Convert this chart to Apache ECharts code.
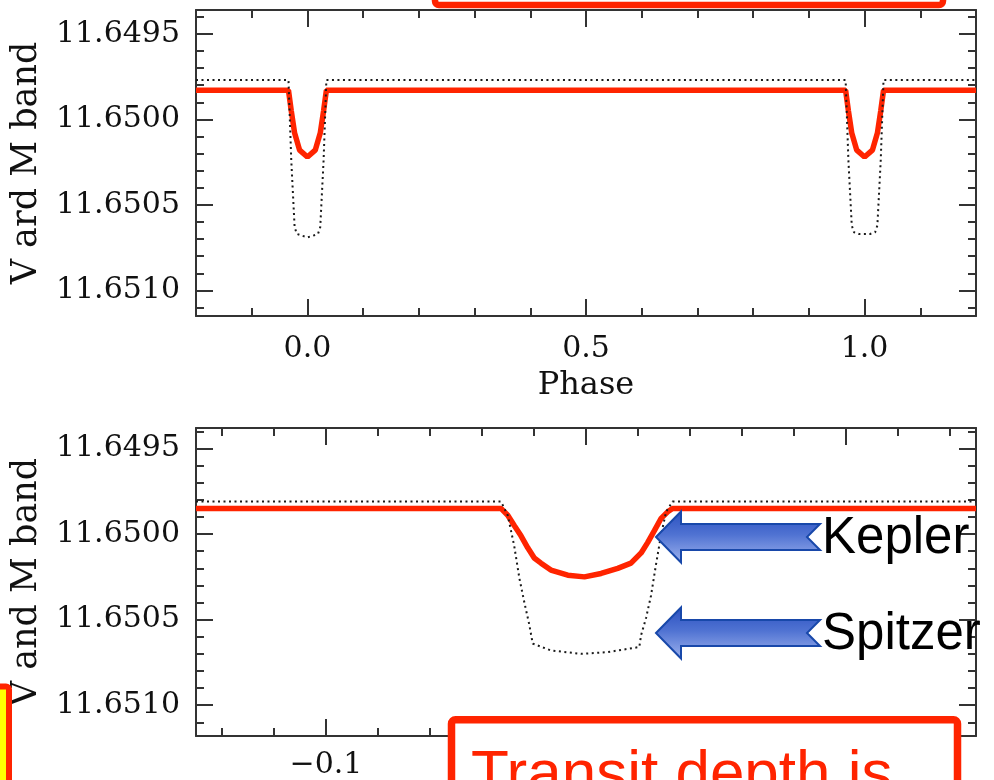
<!DOCTYPE html>
<html>
<head>
<meta charset="utf-8">
<script src="https://cdn.jsdelivr.net/npm/echarts@6/dist/echarts.min.js"></script>
<style>
  html, body { margin: 0; padding: 0; background: #ffffff; }
  #chart { width: 994px; height: 780px; }
</style>
</head>
<body>
<div id="chart"></div>
<script>
// ---- Full-orbit light curve (phase -0.2 .. 1.2) ----
const topSpitzerPhase = [-0.2, -0.034, -0.029, -0.023, -0.019, -0.010, 0.0, 0.010, 0.019, 0.023, 0.029, 0.034,
                         0.966, 0.971, 0.977, 0.981, 0.990, 1.0, 1.010, 1.019, 1.023, 1.029, 1.034, 1.2];
const topSpitzerMag   = [11.64977, 11.64977, 11.65024, 11.65063, 11.65067, 11.65068, 11.65069, 11.65068, 11.65067, 11.65063, 11.65024, 11.64977,
                         11.64977, 11.65024, 11.65062, 11.65066, 11.65067, 11.65067, 11.65067, 11.65066, 11.65062, 11.65024, 11.64977, 11.64977];
const topKeplerPhase  = [-0.2, -0.034, -0.029, -0.023, -0.014, 0.0, 0.014, 0.023, 0.029, 0.034,
                         0.966, 0.971, 0.977, 0.986, 1.0, 1.014, 1.023, 1.029, 1.034, 1.2];
const topKeplerMag    = [11.64983, 11.64983, 11.64995, 11.65008, 11.65018, 11.65022, 11.65018, 11.65008, 11.64995, 11.64983,
                         11.64983, 11.64995, 11.65008, 11.65018, 11.65022, 11.65018, 11.65008, 11.64995, 11.64983, 11.64983];

// ---- Transit close-up (phase -0.15 .. 0.15) ----
const botSpitzerPhase = [-0.15, -0.0327, -0.0301, -0.0276, -0.0256, -0.0237, -0.0218, -0.0205, -0.0135, -0.0019, 0.0083,
                         0.0205, 0.0212, 0.0231, 0.0250, 0.0269, 0.0288, 0.0308, 0.0333, 0.15];
const botSpitzerMag   = [11.64981, 11.64981, 11.64989, 11.65007, 11.65026, 11.65040, 11.65053, 11.65064, 11.65068, 11.65070, 11.65069,
                         11.65066, 11.65059, 11.65049, 11.65036, 11.65018, 11.65001, 11.64987, 11.64981, 11.64981];
const botKeplerPhase  = [-0.15, -0.0327, -0.0301, -0.0276, -0.0250, -0.0224, -0.0199, -0.0173, -0.0135, -0.0070, -0.0006,
                         0.0058, 0.0122, 0.0173, 0.0212, 0.0237, 0.0263, 0.0288, 0.0314, 0.0333, 0.15];
const botKeplerMag    = [11.64985, 11.64985, 11.64989, 11.64995, 11.65001, 11.65008, 11.65014, 11.65017, 11.65021, 11.65024, 11.65025,
                         11.65023, 11.65020, 11.65017, 11.65011, 11.65005, 11.64998, 11.64991, 11.64987, 11.64985, 11.64985];

// ---- Tick positions and labels ----
const magMajorTicks = [11.6495, 11.6500, 11.6505, 11.6510];
const magMinorTicks = [11.6494, 11.6496, 11.6497, 11.6498, 11.6499, 11.6501, 11.6502, 11.6503, 11.6504,
                       11.6506, 11.6507, 11.6508, 11.6509, 11.6511];
const topPhaseMajor = [0.0, 0.5, 1.0];
const topPhaseMinor = [-0.1, 0.1, 0.2, 0.3, 0.4, 0.6, 0.7, 0.8, 0.9, 1.1];
const botPhaseMajor = [-0.1, 0.0, 0.1];
const botPhaseMinor = [-0.14, -0.12, -0.08, -0.06, -0.04, -0.02, 0.02, 0.04, 0.06, 0.08, 0.12, 0.14];
const yTitleTop = 'V ard M band';
const yTitleBot = 'V and M band';
const xTitleTop = 'Phase';

const pairs = (xs, ys) => xs.map((x, i) => [x, ys[i]]);

const AX = '#333333';
const INK = '#111111';
const serif = 'DejaVu Serif';

function xAxes(grid, min, max, major, minor, labelMargin, name) {
  const base = { type: 'value', gridIndex: grid, min: min, max: max, splitLine: { show: false } };
  const fmt = v => (v < 0 ? '\u2212' + Math.abs(v).toFixed(1) : v.toFixed(1));
  return [
    Object.assign({}, base, {
      position: 'bottom',
      axisLine: { show: true, onZero: false, lineStyle: { color: AX, width: 2 } },
      axisTick: { show: true, inside: true, length: 17, customValues: major, lineStyle: { color: AX, width: 2 } },
      axisLabel: { show: true, customValues: major, margin: labelMargin, formatter: fmt,
                   fontFamily: serif, fontSize: 30, color: INK },
      name: name || '', nameLocation: 'middle', nameGap: 54,
      nameTextStyle: { fontFamily: serif, fontSize: 32, color: INK }
    }),
    Object.assign({}, base, {
      position: 'bottom',
      axisLine: { show: false, onZero: false },
      axisTick: { show: true, inside: true, length: 8, customValues: minor, lineStyle: { color: AX, width: 2 } },
      axisLabel: { show: false }
    }),
    Object.assign({}, base, {
      position: 'top',
      axisLine: { show: true, onZero: false, lineStyle: { color: AX, width: 2 } },
      axisTick: { show: true, inside: true, length: 17, customValues: major, lineStyle: { color: AX, width: 2 } },
      axisLabel: { show: false }
    }),
    Object.assign({}, base, {
      position: 'top',
      axisLine: { show: false, onZero: false },
      axisTick: { show: true, inside: true, length: 8, customValues: minor, lineStyle: { color: AX, width: 2 } },
      axisLabel: { show: false }
    })
  ];
}

function yAxes(grid, min, max, title) {
  const base = { type: 'value', gridIndex: grid, min: min, max: max, inverse: true, splitLine: { show: false } };
  return [
    Object.assign({}, base, {
      position: 'left',
      axisLine: { show: true, onZero: false, lineStyle: { color: AX, width: 2 } },
      axisTick: { show: true, inside: true, length: 17, customValues: magMajorTicks, lineStyle: { color: AX, width: 2 } },
      axisLabel: { show: true, customValues: magMajorTicks, margin: 16, formatter: v => v.toFixed(4),
                   fontFamily: serif, fontSize: 30, color: INK },
      name: title, nameLocation: 'middle', nameGap: 152, nameRotate: 90,
      nameTextStyle: { fontFamily: serif, fontSize: 35, color: INK }
    }),
    Object.assign({}, base, {
      position: 'left',
      axisLine: { show: false, onZero: false },
      axisTick: { show: true, inside: true, length: 8, customValues: magMinorTicks, lineStyle: { color: AX, width: 2 } },
      axisLabel: { show: false }
    }),
    Object.assign({}, base, {
      position: 'right',
      axisLine: { show: true, onZero: false, lineStyle: { color: AX, width: 2 } },
      axisTick: { show: true, inside: true, length: 17, customValues: magMajorTicks, lineStyle: { color: AX, width: 2 } },
      axisLabel: { show: false }
    }),
    Object.assign({}, base, {
      position: 'right',
      axisLine: { show: false, onZero: false },
      axisTick: { show: true, inside: true, length: 8, customValues: magMinorTicks, lineStyle: { color: AX, width: 2 } },
      axisLabel: { show: false }
    })
  ];
}

const RED = '#ff2400';
const spitzerStyle = { color: '#1a1a1a', width: 2, type: [2, 3.5] };
const keplerStyle = { color: RED, width: 5.5 };

function line(data, xi, yi, style, z) {
  return { type: 'line', data: data, xAxisIndex: xi, yAxisIndex: yi, showSymbol: false, symbol: 'none',
           lineStyle: style, z: z, animation: false, silent: true };
}

const blueFill = () => new echarts.graphic.LinearGradient(0, 0, 0, 1, [
  { offset: 0, color: '#2a50c0' }, { offset: 0.45, color: '#4f72d2' }, { offset: 1, color: '#9fb3ee' }
]);
function arrow(tipX, tipY) {
  return {
    type: 'polygon', z: 200,
    shape: { points: [[tipX, tipY], [tipX + 25, tipY - 25.5], [tipX + 25, tipY - 13], [tipX + 164, tipY - 13],
                      [tipX + 151, tipY], [tipX + 164, tipY + 13], [tipX + 25, tipY + 13], [tipX + 25, tipY + 25.5]] },
    style: { fill: blueFill(), stroke: '#1848aa', lineWidth: 2 }
  };
}

const chart = echarts.init(document.getElementById('chart'), null, { renderer: 'canvas' });
chart.setOption({
  animation: false,
  backgroundColor: '#ffffff',
  grid: [
    { left: 196, top: 10, width: 780, height: 306 },
    { left: 196, top: 428, width: 780, height: 310 }
  ],
  xAxis: [].concat(
    xAxes(0, -0.2, 1.2, topPhaseMajor, topPhaseMinor, 18, xTitleTop),
    xAxes(1, -0.15, 0.15, botPhaseMajor, botPhaseMinor, 14, '')
  ),
  yAxis: [].concat(
    yAxes(0, 11.64936, 11.65115, yTitleTop),
    yAxes(1, 11.64938, 11.65118, yTitleBot)
  ),
  series: [
    line(pairs(topKeplerPhase, topKeplerMag), 0, 0, keplerStyle, 2),
    line(pairs(topSpitzerPhase, topSpitzerMag), 0, 0, spitzerStyle, 3),
    line(pairs(botKeplerPhase, botKeplerMag), 4, 4, keplerStyle, 2),
    line(pairs(botSpitzerPhase, botSpitzerMag), 4, 4, spitzerStyle, 3)
  ],
  graphic: [
    { type: 'rect', z: 200, shape: { x: 435, y: -100, width: 508, height: 105, r: 4 },
      style: { fill: '#ffffff', stroke: RED, lineWidth: 6.5 } },
    { type: 'rect', z: 200, shape: { x: 451.5, y: 719.8, width: 506, height: 120, r: 4 },
      style: { fill: '#ffffff', stroke: RED, lineWidth: 7.5 } },
    { type: 'text', z: 210, style: { x: 471, y: 776, text: 'Transit depth is', fill: RED,
      font: '62px "Liberation Sans", Arial, sans-serif', textVerticalAlign: 'middle', verticalAlign: 'middle' } },
    { type: 'rect', z: 200, shape: { x: -60, y: 686.5, width: 69, height: 200, r: 3 },
      style: { fill: '#ffff00', stroke: RED, lineWidth: 6 } },
    arrow(656, 537),
    arrow(656, 633),
    { type: 'text', z: 210, style: { x: 822, y: 539, text: 'Kepler', fill: '#000000',
      font: '51px "Liberation Sans", Arial, sans-serif', verticalAlign: 'middle', textVerticalAlign: 'middle' } },
    { type: 'text', z: 210, style: { x: 822, y: 635, text: 'Spitzer', fill: '#000000',
      font: '51px "Liberation Sans", Arial, sans-serif', verticalAlign: 'middle', textVerticalAlign: 'middle' } }
  ]
});
</script>
</body>
</html>
